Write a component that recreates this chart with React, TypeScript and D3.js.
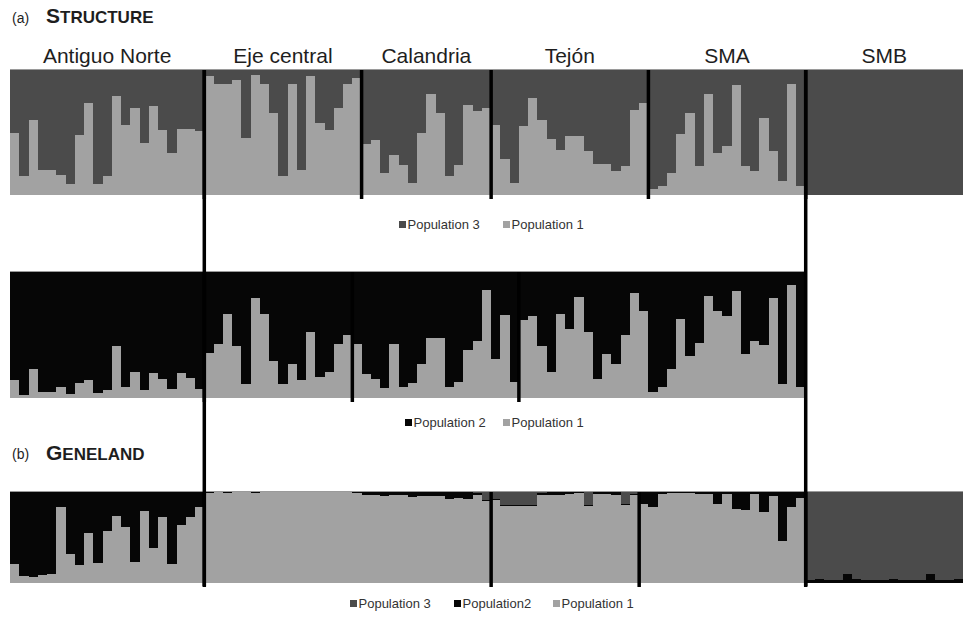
import * as d3 from 'd3'

const groupNames = ['Antiguo Norte', 'Eje central', 'Calandria', 'Tejón', 'SMA', 'SMB']

// (a) STRUCTURE, upper plot: share of Population 1 per individual (the rest is Population 3)
const aAntiguoNorte = [0.5, 0.15, 0.6, 0.2, 0.2, 0.16, 0.09, 0.48, 0.74, 0.09, 0.15, 0.79, 0.56, 0.7, 0.42, 0.71, 0.52, 0.34, 0.53, 0.53, 0.51]
const aEjeCentral = [0.955, 0.89, 0.89, 0.92, 0.46, 0.96, 0.89, 0.66, 0.15, 0.89, 0.2, 0.955, 0.58, 0.52, 0.7, 0.89, 0.94]
const aCalandria = [0.41, 0.44, 0.18, 0.32, 0.24, 0.1, 0.5, 0.81, 0.66, 0.15, 0.24, 0.72, 0.67, 0.7]
const aTejon = [0.56, 0.29, 0.1, 0.55, 0.78, 0.6, 0.45, 0.36, 0.47, 0.47, 0.35, 0.25, 0.25, 0.19, 0.23, 0.68, 0.74]
const aSMA = [0.05, 0.07, 0.18, 0.49, 0.66, 0.23, 0.81, 0.34, 0.39, 0.88, 0.23, 0.19, 0.62, 0.35, 0.11, 0.89, 0.07]
const aSMB = [0, 0, 0, 0, 0, 0, 0, 0, 0, 0, 0, 0, 0, 0, 0, 0, 0]

// (a) STRUCTURE, lower plot: share of Population 1 (the rest is Population 2), SMB left out
const bBlock1 = [0.14, 0.02, 0.23, 0.05, 0.05, 0.09, 0.035, 0.12, 0.14, 0.04, 0.06, 0.415, 0.09, 0.21, 0.06, 0.2, 0.15, 0.07, 0.2, 0.16, 0.07]
const bBlock2 = [0.36, 0.43, 0.67, 0.41, 0.11, 0.79, 0.67, 0.29, 0.11, 0.27, 0.14, 0.52, 0.17, 0.21, 0.43, 0.5]
const bBlock3 = [0.43, 0.19, 0.15, 0.08, 0.43, 0.09, 0.12, 0.27, 0.48, 0.48, 0.09, 0.13, 0.38, 0.45, 0.86, 0.31, 0.66, 0.13]
const bBlock4 = [0.62, 0.65, 0.41, 0.21, 0.665, 0.55, 0.8, 0.52, 0.15, 0.35, 0.27, 0.5, 0.83, 0.69, 0.05, 0.09, 0.23, 0.63, 0.33, 0.44, 0.81, 0.69, 0.65, 0.85, 0.35, 0.45, 0.42, 0.79, 0.11, 0.9, 0.09]

// (b) GENELAND: Population 2 and Population 3 shares (the rest is Population 1, or Population 3 for SMB)
const cPop2Block1 = [0.79, 0.92, 0.93, 0.91, 0.9, 0.17, 0.68, 0.8, 0.45, 0.78, 0.43, 0.26, 0.39, 0.77, 0.21, 0.61, 0.28, 0.79, 0.36, 0.27, 0.17]
const cPop3Block1 = [0, 0, 0, 0, 0, 0, 0, 0, 0, 0, 0, 0, 0, 0, 0, 0, 0, 0, 0, 0, 0]
const cPop2Block2 = [0.01, 0.005, 0.01, 0, 0.005, 0.01, 0.005, 0, 0.005, 0, 0, 0, 0, 0, 0, 0.005, 0.01, 0.03, 0.035, 0.04, 0.03, 0.035, 0.058, 0.04, 0.04, 0.045, 0.075, 0.07, 0.075, 0.02, 0.01]
const cPop3Block2 = [0, 0, 0, 0, 0, 0, 0, 0, 0, 0, 0, 0, 0, 0, 0, 0, 0, 0, 0, 0, 0, 0, 0, 0, 0, 0, 0, 0, 0, 0.01, 0.085]
const cPop2Block3 = [0.01, 0.01, 0.01, 0.01, 0.01, 0.02, 0.03, 0.035, 0.02, 0.01, 0.01, 0.02, 0.02, 0.03, 0.01, 0.01]
const cPop3Block3 = [0.08, 0.14, 0.14, 0.14, 0.14, 0.01, 0, 0, 0, 0, 0.14, 0, 0, 0, 0.13, 0.02]
const cPop2Block4 = [0.13, 0.165, 0.02, 0.015, 0.01, 0.01, 0.02, 0.02, 0.13, 0.02, 0.19, 0.2, 0.02, 0.225, 0.04, 0.54, 0.16, 0.066]
const cPop3Block4 = [0, 0, 0, 0, 0, 0, 0, 0, 0, 0, 0, 0, 0, 0, 0, 0, 0, 0]
const cPop1Block5 = [0, 0, 0, 0, 0, 0, 0, 0, 0, 0, 0, 0, 0, 0, 0, 0, 0]
const cPop2Block5 = [0.03, 0.04, 0.03, 0.035, 0.1, 0.04, 0.03, 0.035, 0.03, 0.04, 0.03, 0.035, 0.03, 0.1, 0.035, 0.03, 0.04]

const legendA = ['Population 3', 'Population 1']
const legendB = ['Population 2', 'Population 1']
const legendC = ['Population 3', 'Population2', 'Population 1']

type Key = 'pop1' | 'pop2' | 'pop3'
type Row = { id: string; group: number; pop1: number; pop2: number; pop3: number }
type Group = { rest: Key } & Partial<Record<Key, number[]>>

const COLORS: Record<string, string> = { pop1: '#a2a2a2', pop2: '#060606', pop3: '#4b4b4b' }
const FONT = 'Arial, "Liberation Sans", sans-serif'

// rest = the population that fills up what the given shares leave
const makeRows = (tag: string, groups: Group[]): Row[] =>
  groups.flatMap((g, gi) => {
    const keys = (['pop1', 'pop2', 'pop3'] as Key[]).filter(k => g[k])
    const n = g[keys[0]]!.length
    return d3.range(n).map(i => {
      const r: Row = { id: `${tag}-${gi}-${i}`, group: gi, pop1: 0, pop2: 0, pop3: 0 }
      keys.forEach(k => { r[k] = g[k]![i] })
      r[g.rest] = Math.max(0, 1 - r.pop1 - r.pop2 - r.pop3)
      return r
    })
  })

const Panel = ({ rows, keys, x, top, bottom }: {
  rows: Row[]
  keys: Key[]
  x: d3.ScaleBand<string>
  top: number
  bottom: number
}) => {
  const y = d3.scaleLinear().domain([0, 1]).range([bottom, top])
  const series = d3.stack<Row>().keys(keys)(rows)
  const bounds = rows.filter((r, i) => i > 0 && r.group !== rows[i - 1].group)
  const [x0, x1] = x.range()
  return (
    <g>
      {series.map(s => (
        <g key={s.key} fill={COLORS[s.key]} shapeRendering="crispEdges">
          {s.map(d => (
            <rect key={d.data.id} x={x(d.data.id)} width={x.bandwidth()}
              y={y(d[1])} height={Math.max(0, y(d[0]) - y(d[1]))} />
          ))}
        </g>
      ))}
      <line x1={x0} x2={x1} y1={top - 0.5} y2={top - 0.5} stroke="#9a9a9a" />
      {bounds.map(r => (
        <line key={r.id} x1={x(r.id)} x2={x(r.id)} y1={top} y2={bottom + 4}
          stroke="#000" strokeWidth={3.5} />
      ))}
    </g>
  )
}

const Legend = ({ labels, keys, xs, y }: { labels: string[]; keys: Key[]; xs: number[]; y: number }) => (
  <g fontFamily={FONT} fontSize={13} fill="#333">
    {labels.map((l, i) => (
      <g key={l + i}>
        <rect x={xs[i]} y={y - 8} width={7} height={7} fill={COLORS[keys[i]]} />
        <text x={xs[i] + 8.5} y={y}>{l}</text>
      </g>
    ))}
  </g>
)

export default function App() {
  const rowsA = makeRows('a', [
    { rest: 'pop3', pop1: aAntiguoNorte }, { rest: 'pop3', pop1: aEjeCentral },
    { rest: 'pop3', pop1: aCalandria }, { rest: 'pop3', pop1: aTejon },
    { rest: 'pop3', pop1: aSMA }, { rest: 'pop3', pop1: aSMB },
  ])
  const xA = d3.scaleBand<string>().domain(rowsA.map(r => r.id)).range([10, 963])
  const starts = groupNames.map((_, gi) => rowsA.findIndex(r => r.group === gi))
  const ends = groupNames.map((_, gi) => rowsA.length - 1 - [...rowsA].reverse().findIndex(r => r.group === gi))
  const smbX = xA(rowsA[starts[5]].id)!
  const firstX = xA(rowsA[starts[1]].id)!

  const rowsB = makeRows('b', [
    { rest: 'pop2', pop1: bBlock1 }, { rest: 'pop2', pop1: bBlock2 },
    { rest: 'pop2', pop1: bBlock3 }, { rest: 'pop2', pop1: bBlock4 },
  ])
  const xB = d3.scaleBand<string>().domain(rowsB.map(r => r.id)).range([10, smbX])

  const rowsC = makeRows('c', [
    { rest: 'pop1', pop2: cPop2Block1, pop3: cPop3Block1 },
    { rest: 'pop1', pop2: cPop2Block2, pop3: cPop3Block2 },
    { rest: 'pop1', pop2: cPop2Block3, pop3: cPop3Block3 },
    { rest: 'pop1', pop2: cPop2Block4, pop3: cPop3Block4 },
    { rest: 'pop3', pop1: cPop1Block5, pop2: cPop2Block5 },
  ])
  const xC = d3.scaleBand<string>().domain(rowsC.map(r => r.id)).range([10, 963])

  return (
    <svg width={965} height={641} style={{ position: 'absolute', left: 0, top: 0, background: '#fff' }}>
      <g fontFamily={FONT} fill="#1e1e1e">
        <text x={12} y={23} fontSize={14}>(a)</text>
        <text x={46} y={23} fontWeight="bold">
          <tspan fontSize={21}>S</tspan><tspan fontSize={17}>TRUCTURE</tspan>
        </text>
        <text x={12} y={459} fontSize={14}>(b)</text>
        <text x={46} y={460} fontWeight="bold">
          <tspan fontSize={21}>G</tspan><tspan fontSize={17}>ENELAND</tspan>
        </text>
        {groupNames.map((g, gi) => {
          const a = xA(rowsA[starts[gi]].id)!
          const b = xA(rowsA[ends[gi]].id)! + xA.bandwidth()
          return (
            <text key={g} x={(a + b) / 2} y={63} fontSize={21} textAnchor="middle">{g}</text>
          )
        })}
      </g>

      <Panel rows={rowsA} keys={['pop1', 'pop3']} x={xA} top={70} bottom={195} />
      <Panel rows={rowsB} keys={['pop1', 'pop2']} x={xB} top={272} bottom={398} />
      <Panel rows={rowsC} keys={['pop1', 'pop2', 'pop3']} x={xC} top={492} bottom={583} />

      {[firstX, smbX].map(v => (
        <line key={v} x1={v} x2={v} y1={70} y2={586} stroke="#000" strokeWidth={3.5} />
      ))}

      <Legend labels={legendA} keys={['pop3', 'pop1']} xs={[399, 503]} y={229} />
      <Legend labels={legendB} keys={['pop2', 'pop1']} xs={[405, 503]} y={427} />
      <Legend labels={legendC} keys={['pop3', 'pop2', 'pop1']} xs={[350, 454, 553]} y={608} />
    </svg>
  )
}
